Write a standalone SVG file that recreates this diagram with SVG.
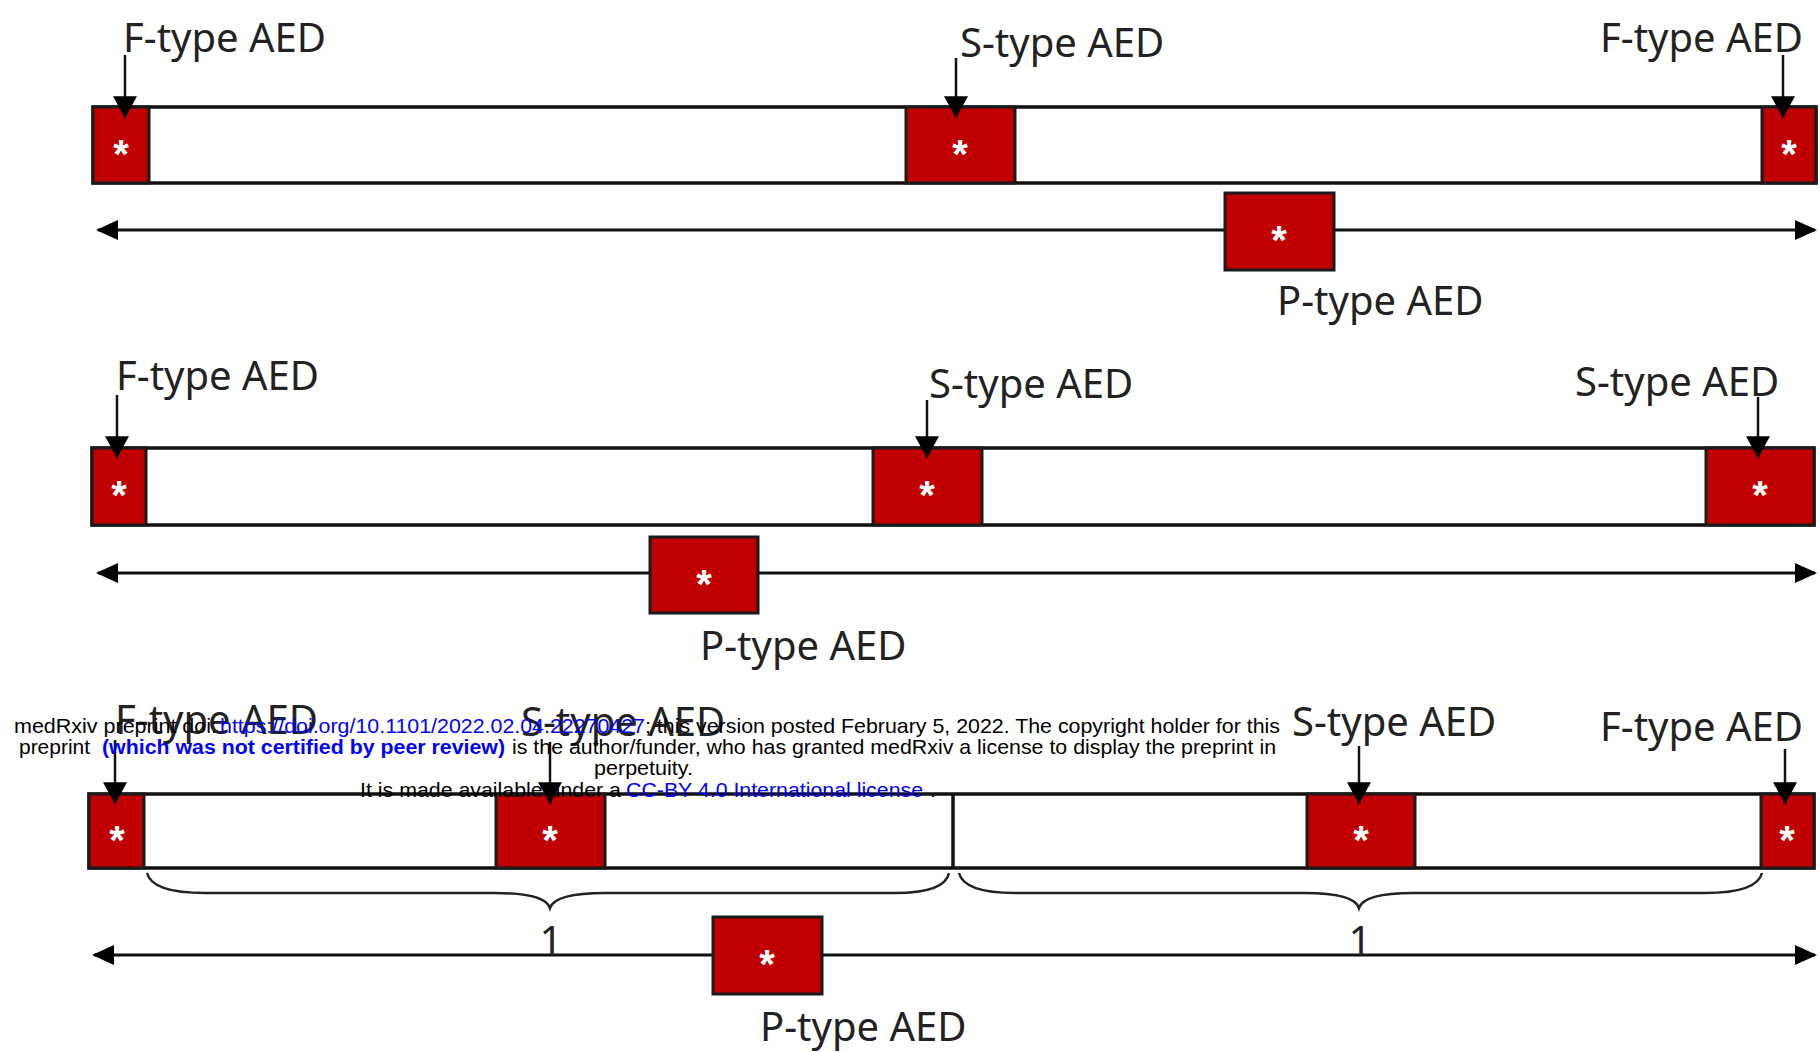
<svg xmlns="http://www.w3.org/2000/svg" width="1820" height="1052" viewBox="0 0 1820 1052">
<style>
.bar{fill:#fff;stroke:#111;stroke-width:3.5}
.aed{fill:#c00000;stroke:#1a1a1a;stroke-width:3}
.star{fill:#fff;font-family:"Liberation Sans",Arial,sans-serif;font-weight:bold;font-size:40px;text-anchor:middle}
.lbl{fill:#222;font-family:"Noto Sans","Open Sans",sans-serif;font-size:40px}
.num{fill:#222;font-family:"Noto Sans","Open Sans",sans-serif;font-size:40px;text-anchor:middle}
.pin{stroke:#111;stroke-width:2.5;fill:none;marker-end:url(#head)}
.axis{stroke:#111;stroke-width:3;fill:none;marker-start:url(#ahead);marker-end:url(#ahead)}
.div{stroke:#111;stroke-width:3.5}
.brace{stroke:#222;stroke-width:2.5;fill:none}
.wm{font-family:"Liberation Sans",Arial,sans-serif;font-size:21px;fill:#000}
.wb{fill:#0000ff}
.wbb{fill:#0000ff;font-weight:bold}
</style>
<defs>
<marker id="head" markerUnits="userSpaceOnUse" markerWidth="24" markerHeight="24" viewBox="0 0 20 22" refX="20" refY="11" orient="auto">
<path d="M0,0 L20,11 L0,22 z" fill="#000"/>
</marker>
<marker id="ahead" markerUnits="userSpaceOnUse" markerWidth="22" markerHeight="20" viewBox="0 0 22 20" refX="20" refY="10" orient="auto-start-reverse">
<path d="M0,0 L22,10 L0,20 z" fill="#000"/>
</marker>
</defs>

<!-- Axes (drawn beneath the P-type boxes) -->
<g id="axes">
<line class="axis" x1="98" y1="230" x2="1815" y2="230"/>
<line class="axis" x1="98" y1="573" x2="1815" y2="573"/>
<line class="axis" x1="94" y1="955" x2="1815" y2="955"/>
</g>

<!-- Row 1 -->
<g id="row1">
<rect id="bar1" class="bar" x="93" y="107" width="1723" height="76"/>
<g id="r1-f1"><rect class="aed" x="93" y="107" width="56" height="76"/><text class="star" x="121" y="168">*</text></g>
<g id="r1-s1"><rect class="aed" x="906" y="107" width="109" height="76"/><text class="star" x="960" y="168">*</text></g>
<g id="r1-f2"><rect class="aed" x="1762" y="107" width="54" height="76"/><text class="star" x="1789" y="168">*</text></g>
<g id="r1-p"><rect class="aed" x="1225" y="193" width="109" height="77"/><text class="star" x="1279" y="254">*</text></g>
<text class="lbl" x="123" y="52">F-type AED</text>
<text class="lbl" x="960" y="57">S-type AED</text>
<text class="lbl" x="1600" y="52">F-type AED</text>
<text class="lbl" x="1277" y="315">P-type AED</text>
</g>

<!-- Row 2 -->
<g id="row2">
<rect id="bar2" class="bar" x="92" y="448" width="1722" height="77"/>
<g id="r2-f1"><rect class="aed" x="92" y="448" width="54" height="77"/><text class="star" x="119" y="509">*</text></g>
<g id="r2-s1"><rect class="aed" x="873" y="448" width="109" height="77"/><text class="star" x="927" y="509">*</text></g>
<g id="r2-s2"><rect class="aed" x="1706" y="448" width="108" height="77"/><text class="star" x="1760" y="509">*</text></g>
<g id="r2-p"><rect class="aed" x="650" y="537" width="108" height="76"/><text class="star" x="704" y="598">*</text></g>
<text class="lbl" x="116" y="390">F-type AED</text>
<text class="lbl" x="929" y="398">S-type AED</text>
<text class="lbl" x="1575" y="396">S-type AED</text>
<text class="lbl" x="700" y="660">P-type AED</text>
</g>

<!-- Row 3 -->
<g id="row3">
<rect id="bar3" class="bar" x="89" y="794" width="1725" height="74"/>
<line class="div" x1="953" y1="794" x2="953" y2="868"/>
<g id="r3-f1"><rect class="aed" x="89" y="794" width="55" height="74"/><text class="star" x="117" y="854">*</text></g>
<g id="r3-s1"><rect class="aed" x="496" y="794" width="109" height="74"/><text class="star" x="550" y="854">*</text></g>
<g id="r3-s2"><rect class="aed" x="1307" y="794" width="108" height="74"/><text class="star" x="1361" y="854">*</text></g>
<g id="r3-f2"><rect class="aed" x="1761" y="794" width="53" height="74"/><text class="star" x="1787" y="854">*</text></g>
<g id="r3-p"><rect class="aed" x="713" y="917" width="109" height="77"/><text class="star" x="767" y="978">*</text></g>
<text class="lbl" x="115" y="734">F-type AED</text>
<text class="lbl" x="521" y="736">S-type AED</text>
<text class="lbl" x="1292" y="736">S-type AED</text>
<text class="lbl" x="1600" y="741">F-type AED</text>
<text class="lbl" x="760" y="1041">P-type AED</text>
<path class="brace" d="M147,873 Q152,893 205,893 L495,893 Q545,893 550,908 Q555,893 605,893 L895,893 Q945,893 949,873"/>
<path class="brace" d="M959,873 Q964,893 1015,893 L1305,893 Q1354,893 1359,908 Q1364,893 1413,893 L1705,893 Q1757,893 1762,873"/>
<text class="num" x="551" y="955">1</text>
<text class="num" x="1360" y="955">1</text>
</g>

<!-- Connectors (pointer arrows) -->
<g id="connectors">
<line class="pin" x1="125" y1="55" x2="125" y2="118"/>
<line class="pin" x1="956" y1="58" x2="956" y2="118"/>
<line class="pin" x1="1783" y1="55" x2="1783" y2="118"/>

<line class="pin" x1="117" y1="395" x2="117" y2="458"/>
<line class="pin" x1="927" y1="400" x2="927" y2="458"/>
<line class="pin" x1="1758" y1="397" x2="1758" y2="458"/>

<line class="pin" x1="115" y1="740" x2="115" y2="804"/>
<line class="pin" x1="550" y1="742" x2="550" y2="804"/>
<line class="pin" x1="1359" y1="746" x2="1359" y2="804"/>
<line class="pin" x1="1785" y1="749" x2="1785" y2="804"/>
</g>

<!-- medRxiv stamp -->
<g id="stamp" class="wm">
<text x="14" y="733" textLength="203" lengthAdjust="spacingAndGlyphs">medRxiv preprint doi:</text>
<text class="wb" x="220" y="733" textLength="425" lengthAdjust="spacingAndGlyphs">https://doi.org/10.1101/2022.02.04.22270427</text>
<text x="645" y="733" textLength="635" lengthAdjust="spacingAndGlyphs">; this version posted February 5, 2022. The copyright holder for this</text>
<text x="19" y="754" textLength="71" lengthAdjust="spacingAndGlyphs">preprint</text>
<text class="wbb" x="102" y="754" textLength="403" lengthAdjust="spacingAndGlyphs">(which was not certified by peer review)</text>
<text x="512" y="754" textLength="764" lengthAdjust="spacingAndGlyphs">is the author/funder, who has granted medRxiv a license to display the preprint in</text>
<text x="594" y="775" textLength="99" lengthAdjust="spacingAndGlyphs">perpetuity.</text>
<text x="360" y="797" textLength="261" lengthAdjust="spacingAndGlyphs">It is made available under a</text>
<text class="wb" x="626" y="797" textLength="297" lengthAdjust="spacingAndGlyphs">CC-BY 4.0 International license</text>
<text x="930" y="797">.</text>
</g>
</svg>
